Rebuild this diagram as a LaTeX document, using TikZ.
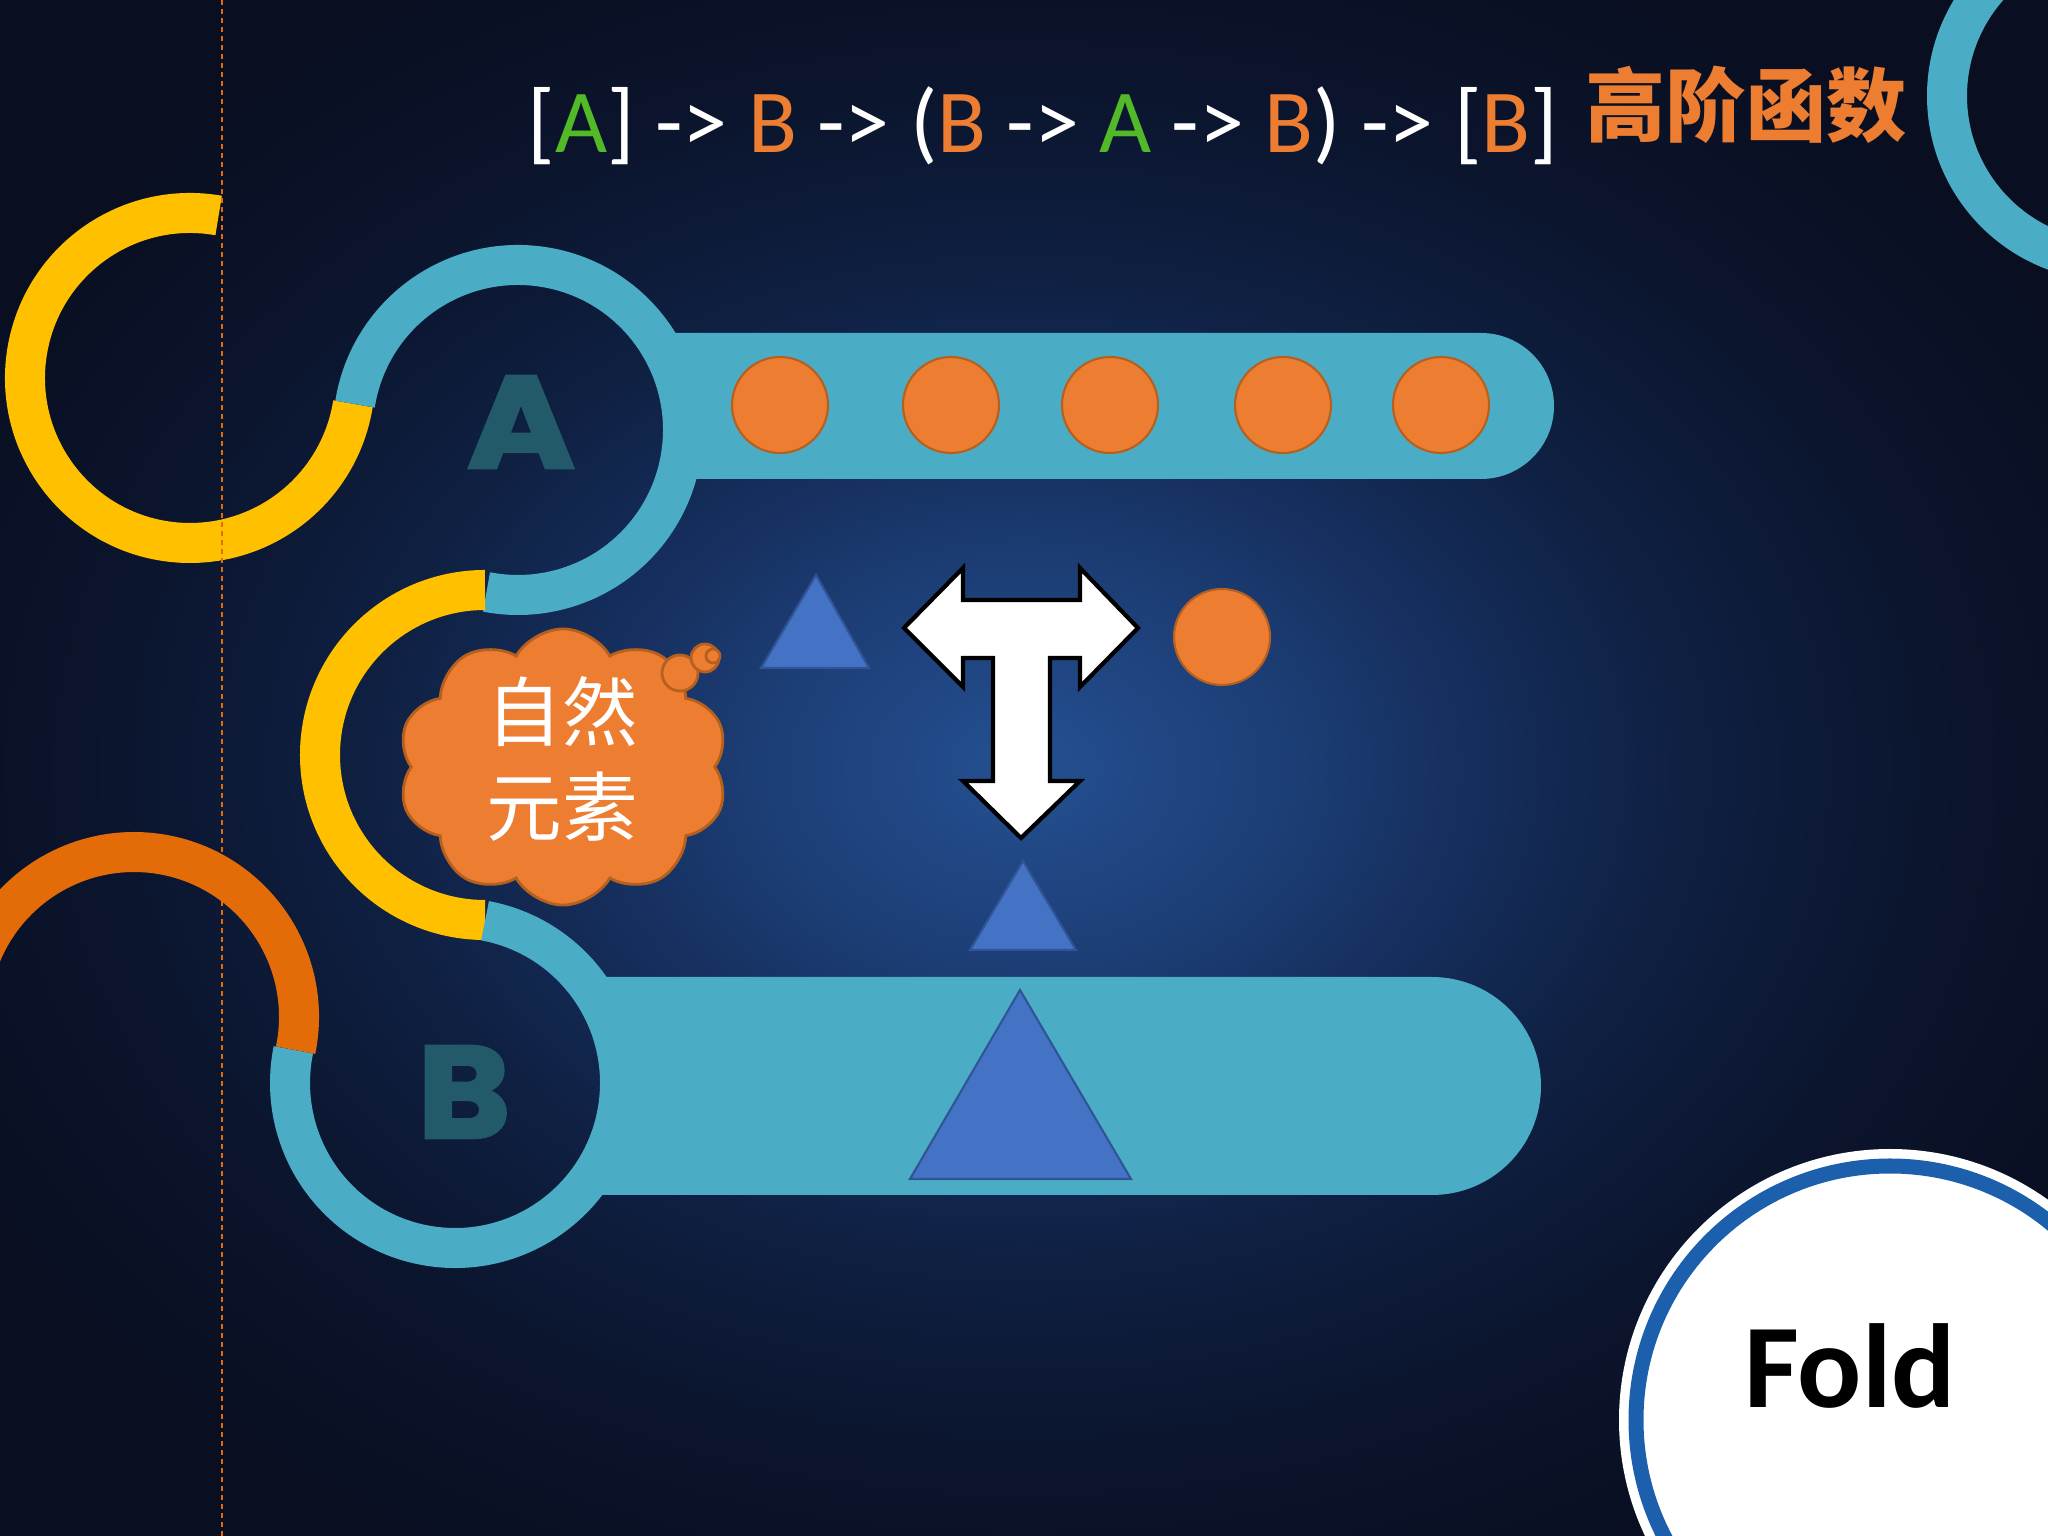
\documentclass[tikz,border=0pt]{standalone}
\usepackage{fontspec}
\setmainfont{Carlito}
\newfontfamily\cjk{Noto Sans CJK SC}
\newfontfamily\heavy{Poppins}[BoldFeatures={FakeBold=2.5}]
\usetikzlibrary{shapes.symbols}
\definecolor{bgout}{RGB}{9,15,33}
\definecolor{bgedge}{RGB}{11,21,46}
\definecolor{bgdark}{RGB}{15,32,66}
\definecolor{bgmid}{RGB}{21,46,92}
\definecolor{bglow}{RGB}{29,63,120}
\definecolor{bgin}{RGB}{36,80,145}
\definecolor{ringblue}{HTML}{4BACC6}
\definecolor{ringyellow}{HTML}{FFC000}
\definecolor{ringorange}{HTML}{E36C09}
\definecolor{dotorange}{HTML}{ED7D31}
\definecolor{dotedge}{HTML}{B5601F}
\definecolor{triblue}{HTML}{4472C4}
\definecolor{triedge}{HTML}{2F5597}
\definecolor{lettercol}{RGB}{35,90,105}
\definecolor{greenA}{RGB}{82,186,40}
\definecolor{foldblue}{HTML}{1C5FAD}
\pgfdeclareradialshading{denim}{\pgfpoint{0bp}{0bp}}{color(0bp)=(bgin); color(6bp)=(bglow); color(11bp)=(bgmid); color(16bp)=(bgdark); color(22bp)=(bgedge); color(29bp)=(bgout); color(50bp)=(bgout)}
\tikzset{
  ring/.style={line width=4mm},
  dot/.style={fill=dotorange,draw=dotedge,line width=0.6pt},
  puff/.style={fill=dotorange,draw=dotedge,line width=0.8pt},
  tri/.style={fill=triblue,draw=triedge,line width=0.6pt},
  bigletter/.style={text=lettercol,font=\heavy\bfseries\fontsize{37}{40}\selectfont,inner sep=0pt}
}
\begin{document}
\begin{tikzpicture}[x=0.01cm,y=0.01cm]
\useasboundingbox (0,0) rectangle (2048,1536);
\clip (0,0) rectangle (2048,1536);
\shade[shading=denim] (0,0) rectangle (2048,1536);
\coordinate (y1) at (190,1158);
\coordinate (ca) at (518,1106);
\coordinate (y2) at (485,781);
\coordinate (cb) at (455,453);
\coordinate (o1) at (134,519);
\coordinate (tr) at (2112,1440);
\fill[ringblue] (665,1057) -- (1481,1057) arc (-90:90:73) -- (665,1203) -- cycle;
\fill[ringblue] (600,341) -- (1432,341) arc (-90:90:109) -- (600,559) -- cycle;
\draw[ring,ringyellow] ([shift={(80:165)}]y1) arc (80:351:165);
\draw[ring,ringblue] ([shift={(171:165)}]ca) arc (171:-101:165);
\draw[ring,ringyellow] ([shift={(90:165)}]y2) arc (90:270:165);
\draw[ring,ringblue] ([shift={(79.5:165)}]cb) arc (79.5:-191.6:165);
\draw[ring,ringorange] ([shift={(-11.6:165)}]o1) arc (-11.6:180:165);
\draw[ring,ringblue] (tr) circle (165);
\node[bigletter] (letA) at (521,1114) {\scalebox{1.12}[1]{A}};
\node[bigletter] (letB) at (464,444) {\scalebox{1.08}[1]{B}};
\foreach \x in {780,951,1110,1283,1441} \draw[dot] (\x,1131) circle (48);
\draw[dot] (1222,899) circle (48);
\draw[tri] (761,868) -- (816,961) -- (869,868) -- cycle;
\draw[tri] (970,586) -- (1023,675) -- (1076,586) -- cycle;
\draw[tri] (910,357) -- (1020,546) -- (1131,357) -- cycle;
\draw[fill=white,draw=black,line width=1.2pt,line join=miter] (904,908) -- (963,968) -- (963,936) -- (1080,936) -- (1080,968) -- (1138,908) -- (1080,849) -- (1080,878) -- (1050,878) -- (1050,755) -- (1080,755) -- (1021,698) -- (963,755) -- (993,755) -- (993,878) -- (963,878) -- (963,849) -- cycle;
\node[cloud,cloud puffs=10,cloud puff arc=120,aspect=1.2,puff,minimum width=3.3cm,minimum height=2.76cm,inner sep=0pt] (cloud) at (563,769) {};
\draw[puff] (680,863) circle (18);
\draw[puff] (705,878) circle (14);
\draw[puff] (713,880) circle (7);
\node[text=white,align=center,font=\cjk\fontsize{21.5}{27}\selectfont] (cloudtext) at (562,777) {自然\\元素};
\node[anchor=base west,inner sep=0pt,text=white,font=\fontsize{25.6}{30}\selectfont] (sig) at (527,1383) {[\textcolor{greenA}{A}] -> \textcolor{dotorange}{B} -> (\textcolor{dotorange}{B} -> \textcolor{greenA}{A} -> \textcolor{dotorange}{B}) -> [\textcolor{dotorange}{B}]};
\node[inner sep=0pt,text=dotorange,font=\cjk\bfseries\fontsize{22.8}{26}\selectfont] (hof) at (1746,1431) {高阶函数};
\fill[white] (1890,116) circle (271);
\draw[foldblue,line width=1.5mm] (1890,116) circle (254);
\node[anchor=base,inner sep=0pt,font=\bfseries\fontsize{34}{40}\selectfont] (fold) at (1850,128) {Fold};
\draw[ringorange,line width=0.5pt,dash pattern=on 0.5mm off 0.4mm] (222,0) -- (222,1536);
\end{tikzpicture}
\end{document}
